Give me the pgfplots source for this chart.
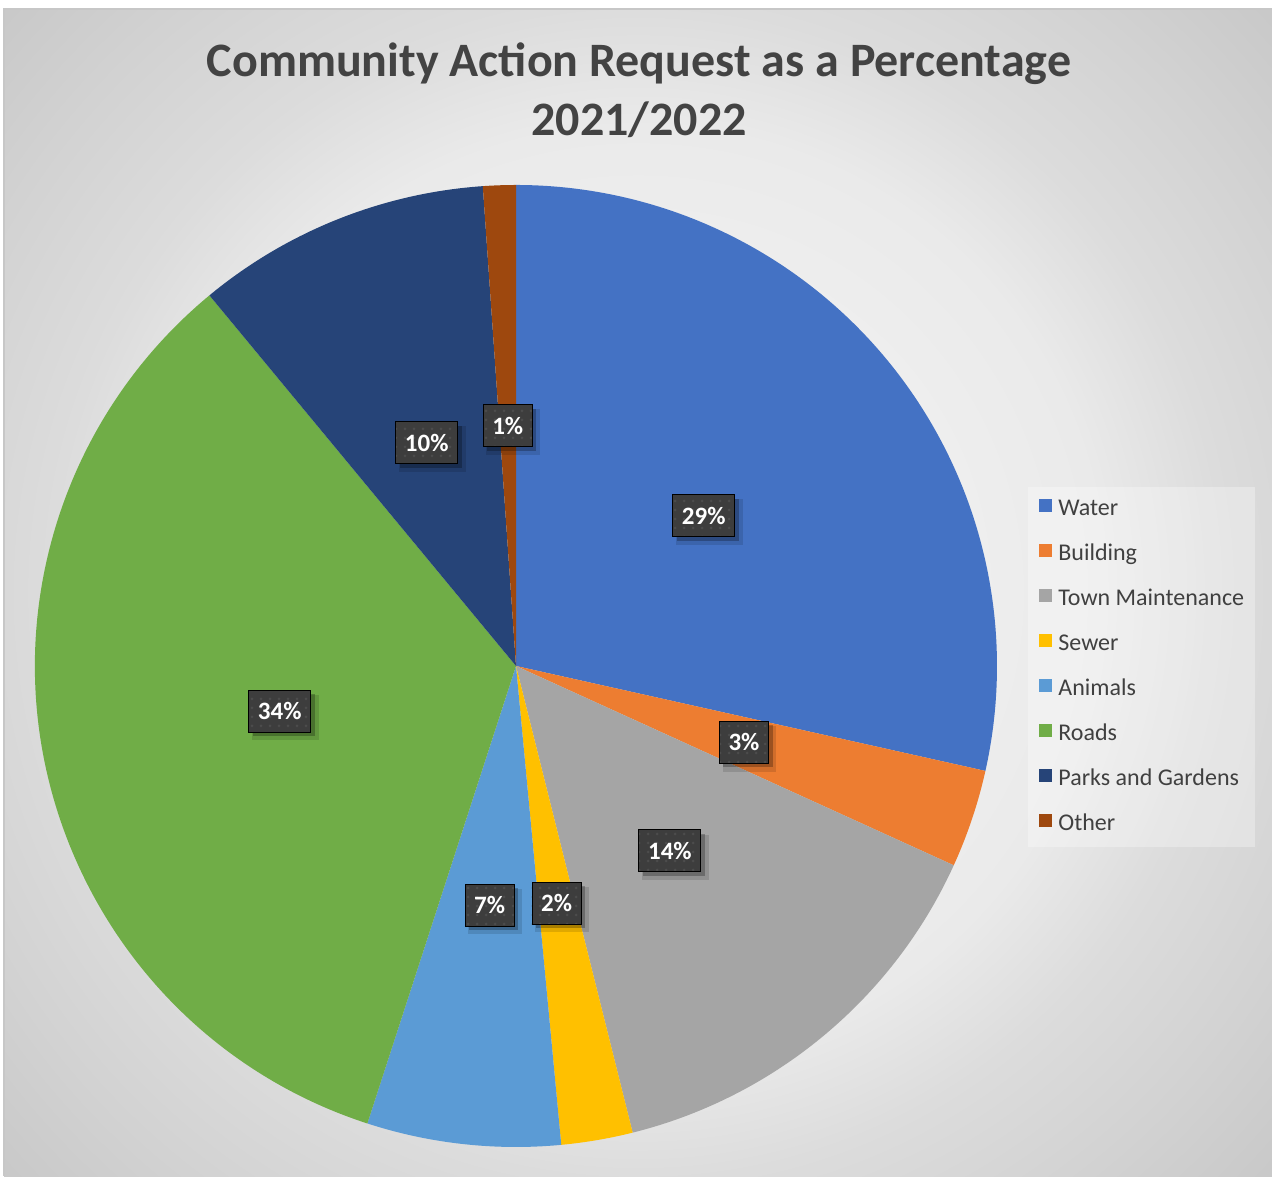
\documentclass[border=0pt]{standalone}
\usepackage{pgfplots}
\pgfplotsset{compat=1.18}
\usepackage{pgfplotstable}
\usepackage{fontspec}
\setmainfont{Carlito}
\usetikzlibrary{shadows,patterns.meta}

\definecolor{cWater}{HTML}{4472C4}
\definecolor{cBuilding}{HTML}{ED7D31}
\definecolor{cTown}{HTML}{A5A5A5}
\definecolor{cSewer}{HTML}{FFC000}
\definecolor{cAnimals}{HTML}{5B9BD5}
\definecolor{cRoads}{HTML}{70AD47}
\definecolor{cParks}{HTML}{264478}
\definecolor{cOther}{HTML}{9E480E}
\colorlet{slice0}{cWater}
\colorlet{slice1}{cBuilding}
\colorlet{slice2}{cTown}
\colorlet{slice3}{cSewer}
\colorlet{slice4}{cAnimals}
\colorlet{slice5}{cRoads}
\colorlet{slice6}{cParks}
\colorlet{slice7}{cOther}
\definecolor{labelbg}{HTML}{3D3D3D}
\definecolor{labeldot}{HTML}{4C4C4C}
\definecolor{titlegray}{HTML}{434343}
\definecolor{legtext}{HTML}{404040}
\definecolor{bg0}{HTML}{F6F6F6}
\definecolor{bg1}{HTML}{EFEFEF}
\definecolor{bg2}{HTML}{EAEAEA}
\definecolor{bg3}{HTML}{DCDCDC}
\definecolor{bg4}{HTML}{D2D2D2}
\definecolor{bg5}{HTML}{C8C8C8}

% used at natural size: 433bp is the distance from the centre to the corners
\pgfdeclareradialshading{chartbg}{\pgfpoint{0bp}{0bp}}{%
  color(0bp)=(bg0); color(152bp)=(bg1); color(232bp)=(bg2);
  color(293bp)=(bg3); color(366bp)=(bg4); color(433bp)=(bg5)}

% share of requests in percent, start = cumulative share before the slice
\pgfplotstableread{
name      idx value start lab
Water     0   28.5  0.0   29
Building  1   3.3   28.5  3
Town      2   14.3  31.8  14
Sewer     3   2.4   46.1  2
Animals   4   6.5   48.5  7
Roads     5   34.0  55.0  34
Parks     6   9.9   89.0  10
Other     7   1.1   98.9  1
}\piedata

\pgfdeclareplotmark{blank}{}
\newcommand\pieR{240.5pt}
\newcommand\legsq[1]{\addlegendimage{legend image code/.code={%
  \fill[#1, fill opacity=1, draw=none] (0pt,-1pt) rectangle (6.5pt,5.5pt);}}}

\begin{document}
\begin{tikzpicture}
\useasboundingbox (0,0) rectangle (636pt,588pt);
\fill[white] (0,0) rectangle (636pt,588pt);
\begin{scope}
  \clip (2pt,0) rectangle (636pt,583.5pt);
  \node[inner sep=0pt] at (319pt,291.75pt) {\pgfuseshading{chartbg}};
\end{scope}
\draw[black!22, line width=0.6pt] (2pt,0) -- (2pt,583.5pt) -- (636pt,583.5pt);

\node[anchor=base, inner sep=0pt, text=titlegray,
      font=\bfseries\fontsize{24}{28}\selectfont] at (319.5pt,549.5pt)
  {Community Action Request as a Percentage};
\node[anchor=base, inner sep=0pt, text=titlegray,
      font=\bfseries\fontsize{24}{28}\selectfont] at (319.5pt,520pt)
  {2021/2022};

\begin{axis}[
  at={(258pt,255pt)}, anchor=center,
  scale only axis, width=481pt, height=481pt,
  xmin=-1, xmax=1, ymin=-1, ymax=1,
  hide axis,
  legend cell align=left,
  legend style={
    at={(1.0322,0.6861)}, anchor=north west,
    draw=none, fill=white, fill opacity=0.3, text opacity=1,
    inner xsep=5.5pt, inner ysep=0pt, column sep=3pt, row sep=0pt,
    font=\fontsize{12}{14}\selectfont, text=legtext,
    nodes={inner xsep=0pt, inner ysep=5.75pt, text height=8.5pt, text depth=2.5pt},
  },
]
% slices
\addplot[
  scatter, only marks, mark=blank, forget plot,
  point meta=\thisrow{value},
  visualization depends on={\thisrow{start} \as \pstart},
  visualization depends on={\thisrow{value} \as \pval},
  visualization depends on={\thisrow{idx} \as \pidx},
  scatter/@pre marker code/.code={%
    \pgfmathsetmacro\aA{90-3.6*\pstart}%
    \pgfmathsetmacro\aB{90-3.6*(\pstart+\pval)}%
    \pgfmathtruncatemacro\k{\pidx}%
    \path[fill=slice\k, draw=none] (0pt,0pt) -- (\aA:\pieR)
      arc[start angle=\aA, end angle=\aB, radius=\pieR] -- cycle;
  },
  scatter/@post marker code/.code={},
] table[x expr=0, y expr=0] {\piedata};

% percentage labels, half way out along the middle of each slice
\addplot[
  only marks, mark=blank, forget plot,
  point meta=explicit symbolic,
  nodes near coords={\pgfplotspointmeta\%},
  every node near coord/.style={
    anchor=center, draw=none, fill=labelbg, text=white,
    font=\bfseries\fontsize{12.5}{14}\selectfont,
    inner xsep=4.6pt, inner ysep=0pt, minimum height=21pt,
    general shadow={draw=none, fill=black, opacity=0.12,
      shadow xshift=2.5pt, shadow yshift=-3pt, shadow scale=1.08},
    general shadow={draw=none, fill=black, opacity=0.25,
      shadow xshift=2pt, shadow yshift=-2pt},
    postaction={pattern={Dots[radius=0.75pt, distance=4.5pt]}, pattern color=labeldot},
  },
] table[
  x expr={0.5*cos(90-3.6*(\thisrow{start}+0.5*\thisrow{value}))},
  y expr={0.5*sin(90-3.6*(\thisrow{start}+0.5*\thisrow{value}))},
  meta=lab,
] {\piedata};

\legsq{cWater}\addlegendentry{Water}
\legsq{cBuilding}\addlegendentry{Building}
\legsq{cTown}\addlegendentry{Town Maintenance}
\legsq{cSewer}\addlegendentry{Sewer}
\legsq{cAnimals}\addlegendentry{Animals}
\legsq{cRoads}\addlegendentry{Roads}
\legsq{cParks}\addlegendentry{Parks and Gardens}
\legsq{cOther}\addlegendentry{Other}
\end{axis}
\end{tikzpicture}
\end{document}
